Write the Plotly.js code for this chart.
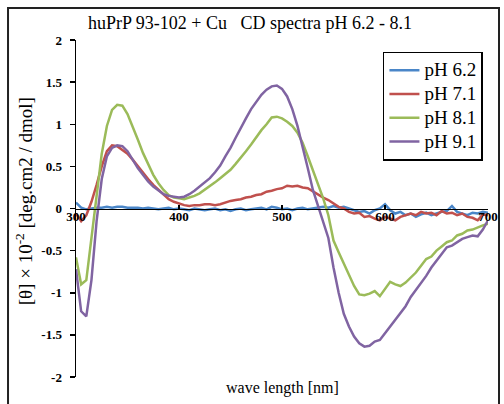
<!DOCTYPE html>
<html>
<head>
<meta charset="utf-8">
<script src="https://cdn.plot.ly/plotly-3.0.1.min.js"></script>
<style>html,body{margin:0;padding:0;background:#fff;}</style>
</head>
<body>
<div id="chart" style="width:504px;height:404px;"></div>
<script>
const wavelength = [300,305,310,315,320,325,330,335,340,345,350,355,360,365,370,375,380,385,390,395,
400,405,410,415,420,425,430,435,440,445,450,455,460,465,470,475,480,485,490,495,
500,505,510,515,520,525,530,535,540,545,550,555,560,565,570,575,580,585,590,595,
600,605,610,615,620,625,630,635,640,645,650,655,660,665,670,675,680,685,690,695,700];

const ph62 = [0.07,0.01,-0.01,0.00,0.01,0.01,0.02,0.01,0.02,0.02,0.01,0.01,0.01,0.00,0.01,0.00,-0.01,0.00,0.01,-0.01,
0.00,-0.01,-0.02,0.00,-0.01,-0.02,-0.01,0.00,-0.02,-0.01,-0.03,-0.01,0.00,-0.02,-0.01,0.00,0.01,-0.01,0.02,0.01,
-0.01,0.00,-0.02,0.00,0.01,-0.01,0.00,0.01,0.02,0.01,0.03,0.01,0.02,0.00,-0.02,-0.04,-0.03,-0.06,-0.02,0.00,
0.05,-0.02,-0.06,-0.04,-0.08,-0.06,-0.10,-0.07,-0.05,-0.08,-0.06,-0.04,-0.03,0.03,-0.04,-0.06,-0.08,-0.05,-0.06,-0.04,-0.05];

const ph71 = [-0.06,-0.15,-0.08,0.08,0.28,0.50,0.68,0.75,0.74,0.70,0.65,0.58,0.50,0.42,0.35,0.28,0.22,0.16,0.11,0.08,
0.06,0.04,0.03,0.04,0.04,0.05,0.05,0.04,0.05,0.07,0.09,0.10,0.11,0.13,0.14,0.16,0.17,0.20,0.21,0.23,
0.24,0.27,0.26,0.27,0.25,0.24,0.20,0.16,0.13,0.10,0.06,0.02,0.00,-0.04,-0.06,-0.05,-0.10,-0.09,-0.12,-0.14,
-0.10,-0.12,-0.14,-0.10,-0.08,-0.06,-0.08,-0.04,-0.06,-0.05,-0.08,-0.03,-0.06,-0.05,-0.08,-0.06,-0.10,-0.11,-0.14,-0.07,-0.08];

const ph81 = [-0.58,-0.90,-0.85,-0.35,0.20,0.65,0.98,1.17,1.23,1.22,1.12,0.98,0.82,0.66,0.52,0.40,0.30,0.22,0.16,0.13,
0.12,0.11,0.13,0.15,0.18,0.22,0.26,0.31,0.36,0.41,0.46,0.53,0.60,0.68,0.76,0.85,0.93,1.00,1.08,1.09,
1.07,1.03,0.98,0.90,0.78,0.62,0.45,0.28,0.12,-0.08,-0.38,-0.52,-0.66,-0.78,-0.92,-1.02,-1.03,-1.01,-0.98,-1.04,
-0.96,-0.87,-0.90,-0.92,-0.88,-0.82,-0.76,-0.68,-0.60,-0.57,-0.50,-0.45,-0.40,-0.38,-0.32,-0.30,-0.26,-0.25,-0.22,-0.20,-0.18];

const ph91 = [-0.72,-1.22,-1.28,-0.85,-0.15,0.35,0.62,0.72,0.75,0.74,0.68,0.58,0.48,0.40,0.32,0.26,0.21,0.17,0.15,0.14,
0.13,0.14,0.17,0.21,0.26,0.31,0.36,0.43,0.51,0.62,0.72,0.84,0.96,1.07,1.18,1.27,1.35,1.41,1.45,1.46,
1.42,1.33,1.18,0.98,0.74,0.48,0.22,0.02,-0.15,-0.35,-0.70,-1.00,-1.25,-1.40,-1.52,-1.60,-1.64,-1.63,-1.58,-1.56,
-1.48,-1.40,-1.33,-1.24,-1.16,-1.05,-0.97,-0.88,-0.80,-0.70,-0.62,-0.54,-0.46,-0.44,-0.40,-0.36,-0.34,-0.32,-0.33,-0.25,-0.14];

const seriesNames = ['pH 6.2','pH 7.1','pH 8.1','pH 9.1'];
const seriesValues = [ph62, ph71, ph81, ph91];
const seriesColors = ['#4a86c8','#c0504d','#9bbb59','#8064a2'];

const xTickVals = [300,400,500,600,700];
const xTickText = ['300','400','500','600','700'];
const yTickVals = [2,1.5,1,0.5,0,-0.5,-1,-1.5,-2];
const yTickText = ['2','1.5','1','0.5','0','-0.5','-1','-1.5','-2'];

const titleText = 'huPrP 93-102 + Cu&nbsp;&nbsp; CD spectra pH 6.2 - 8.1';
const xTitle = 'wave length [nm]';
const yTitle = '[θ] × 10<sup>-2</sup> [deg.cm2 / dmol]';

const serif = 'Liberation Serif, Times New Roman, serif';

const traces = seriesNames.map((n, i) => ({
  type: 'scatter', mode: 'lines',
  name: '<span style="font-size:19px">' + n + '</span>',
  x: wavelength, y: seriesValues[i],
  line: {color: seriesColors[i], width: 2.5}
}));

const layout = {
  width: 504, height: 404,
  margin: {l: 76, r: 16, t: 40, b: 27},
  paper_bgcolor: '#fff', plot_bgcolor: '#fff',
  showlegend: true,
  title: {text: titleText, x: 0.496, xref: 'container', y: 0.943, yref: 'container', yanchor: 'middle',
          font: {family: serif, size: 18, color: '#000'}},
  xaxis: {
    range: [300, 700], anchor: 'free', position: 0.5,
    showline: true, linecolor: '#000', linewidth: 1.5,
    ticks: 'inside', ticklen: 4, tickcolor: '#000', tickwidth: 1.5,
    ticklabelstandoff: -5,
    tickvals: xTickVals, ticktext: xTickText,
    showgrid: false, zeroline: false,
    tickfont: {family: serif, size: 13, color: '#000', weight: 'bold'}
  },
  yaxis: {
    range: [-2, 2],
    showline: true, linecolor: '#000', linewidth: 1.5,
    ticks: 'outside', ticklen: 5, tickcolor: '#000', tickwidth: 1.5,
    ticklabelstandoff: 5,
    tickvals: yTickVals, ticktext: yTickText,
    showgrid: false, zeroline: false,
    tickfont: {family: serif, size: 13, color: '#000', weight: 'bold'}
  },
  legend: {
    x: 0.745, y: 0.965, xanchor: 'left', yanchor: 'top',
    bordercolor: '#000', borderwidth: 1.5, bgcolor: '#fff',
    font: {family: serif, size: 16, color: '#000'},
    itemwidth: 30
  },
  annotations: [
    {text: xTitle, xref: 'paper', yref: 'paper', x: 0.5, y: -0.033, xanchor: 'center', yanchor: 'middle', showarrow: false,
     font: {family: serif, size: 16, color: '#000'}},
    {text: yTitle, xref: 'paper', yref: 'paper', x: -0.124, y: 0.521, xanchor: 'center', yanchor: 'middle',
     textangle: -90, showarrow: false,
     font: {family: serif, size: 19, color: '#000'}}
  ],
  shapes: [
    {type: 'rect', xref: 'paper', yref: 'paper', x0: -0.165, x1: 1.0267, y0: -0.2, y1: 1.095,
     line: {color: '#222', width: 2}, fillcolor: 'rgba(0,0,0,0)', layer: 'below'}
  ]
};

Plotly.newPlot('chart', traces, layout, {displayModeBar: false, staticPlot: true});
</script>
</body>
</html>
